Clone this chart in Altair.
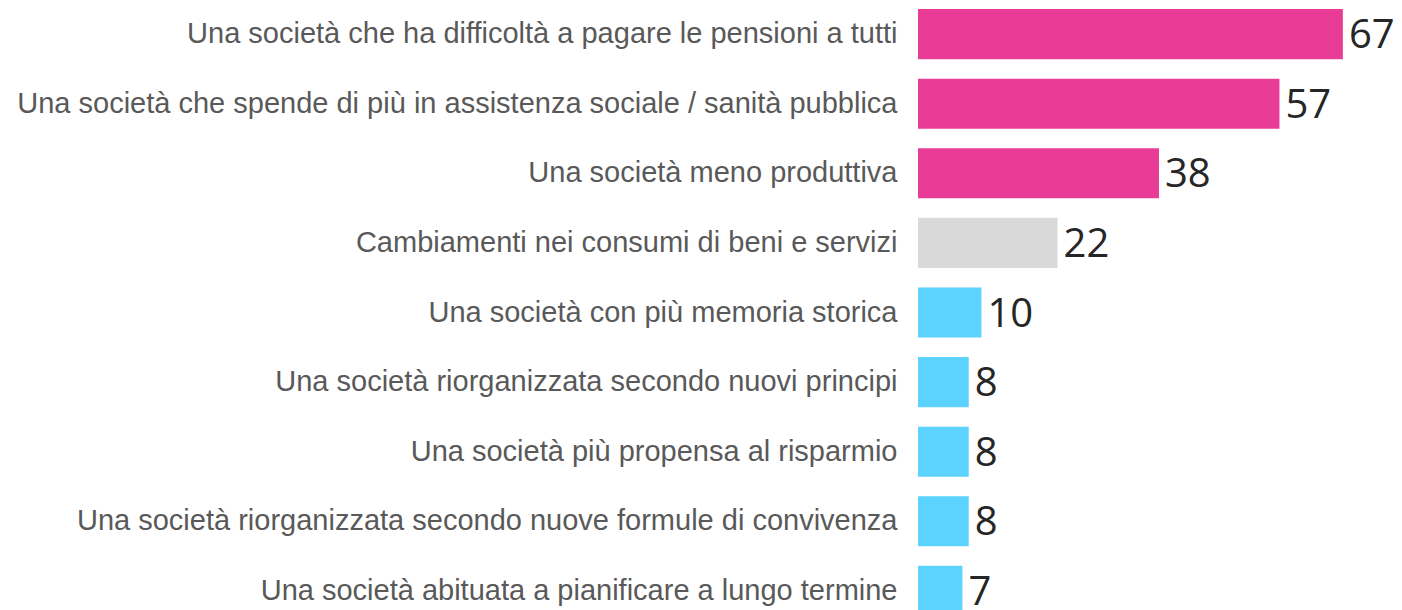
import altair as alt
import pandas as pd

categories = [
    "Una società che ha difficoltà a pagare le pensioni a tutti",
    "Una società che spende di più in assistenza sociale / sanità pubblica",
    "Una società meno produttiva",
    "Cambiamenti nei consumi di beni e servizi",
    "Una società con più memoria storica",
    "Una società riorganizzata secondo nuovi principi",
    "Una società più propensa al risparmio",
    "Una società riorganizzata secondo nuove formule di convivenza",
    "Una società abituata a pianificare a lungo termine",
]
values = [67, 57, 38, 22, 10, 8, 8, 8, 7]
groups = ["neg", "neg", "neg", "neu", "pos", "pos", "pos", "pos", "pos"]
colors_domain = ["neg", "neu", "pos"]
colors_range = ["#E93C96", "#D9D9D9", "#5BD3FE"]

df = pd.DataFrame({"cat": categories, "val": values, "grp": groups})

y = alt.Y("cat:N", sort=categories, title=None,
          scale=alt.Scale(paddingInner=0.28, paddingOuter=0.015),
          axis=alt.Axis(domain=False, ticks=False, tickSize=0, labelPadding=21,
                        labelFont="Liberation Sans", labelFontSize=29,
                        labelColor="#595959", labelLimit=1000))
x = alt.X("val:Q", title=None, scale=alt.Scale(domain=[0, 73.8], nice=False),
          axis=None)

bars = alt.Chart(df).mark_bar().encode(
    x=x, y=y,
    color=alt.Color("grp:N", scale=alt.Scale(domain=colors_domain, range=colors_range), legend=None),
)
text = alt.Chart(df).mark_text(align="left", baseline="middle", dx=6, dy=2,
                               font="Open Sans", fontSize=40, color="#262626").encode(
    x=x, y=y, text="val:Q")

chart = (bars + text).properties(
    width=468, height=609,
    autosize=alt.AutoSizeParams(type="none"),
    padding={"left": 910, "top": 0, "right": 8, "bottom": 0},
).configure_view(stroke=None)

chart.save("out.html", embed_options={"renderer": "svg", "actions": False})
